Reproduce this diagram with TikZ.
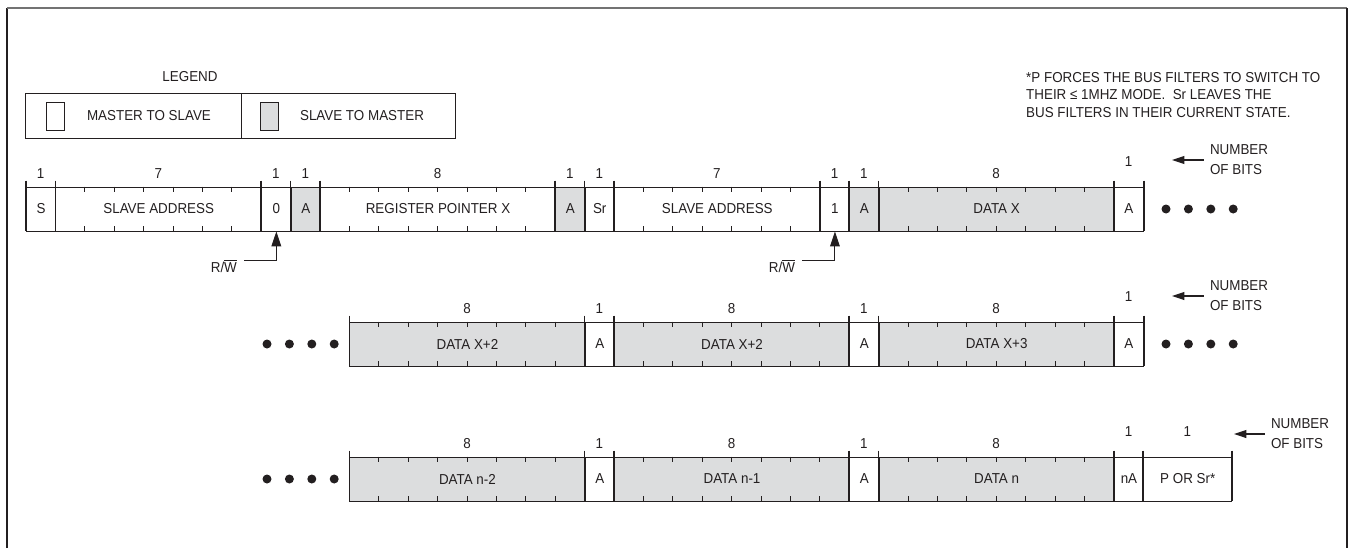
\documentclass[tikz,border=0pt]{standalone}
\usepackage{fontspec}
\setmainfont{Liberation Sans}[FakeStretch=0.93]
\usetikzlibrary{arrows.meta}

\definecolor{inkblack}{RGB}{35,31,32}
\definecolor{slavegray}{RGB}{220,221,222}

\tikzset{
  every node/.style={font=\fontsize{8.2}{10}\selectfont, text=inkblack},
  bitcell/.style={draw=inkblack, line width=0.5pt, minimum height=0.88cm, inner sep=0pt, anchor=west},
  fieldsep/.style={draw=inkblack, line width=0.9pt},
  bittick/.style={draw=inkblack, line width=0.5pt},
  bitnum/.style={inner sep=1pt},
  bitdot/.style={circle, fill=inkblack, inner sep=0pt, minimum size=0.18cm},
  swatch/.style={draw=inkblack, line width=0.5pt, inner sep=0pt, minimum width=0.36cm, minimum height=0.56cm},
  legendbox/.style={draw=inkblack, line width=0.5pt, inner sep=0pt, minimum height=0.9cm, anchor=north west},
  nbits/.style={anchor=west, align=left, inner sep=1.5pt, font=\fontsize{8.2}{11.5}\selectfont},
  rwarrow/.style={draw=inkblack, line width=0.6pt, -{Triangle[length=8.5pt,width=5.5pt]}},
  nbarrow/.style={draw=inkblack, line width=0.6pt, -{Triangle[length=7pt,width=4.5pt]}},
}

\begin{document}
\begin{tikzpicture}[x=0.02cm, y=-0.02cm]
  \useasboundingbox (0,0) rectangle (1351,548);

  % Frame
  \draw[line width=0.9pt, inkblack] (7,548) -- (7,8);
  \draw[line width=1.3pt, black!55] (7,8) -- (1347,8);
  \draw[line width=0.9pt, inkblack] (1347,8) -- (1347,548);

  % Legend
  \node (legend) at (190,77) {LEGEND};
  \node[legendbox, minimum width=4.32cm] (lgl) at (25,93) {};
  \node[legendbox, minimum width=4.28cm] (lgr) at (241,93) {};
  \node[swatch, fill=white] (swm) at (55,116) {};
  \node[swatch, fill=slavegray] (sws) at (269.5,116) {};
  \node (lgmtext) at (149,116) {MASTER TO SLAVE};
  \node (lgstext) at (362,116) {SLAVE TO MASTER};

  % Note
  \node[anchor=west, align=left, font=\fontsize{8.2}{10.2}\selectfont] (note) at (1020,95)
    {*P FORCES THE BUS FILTERS TO SWITCH TO\\THEIR ≤ 1MHZ MODE.~~Sr LEAVES THE\\BUS FILTERS IN THEIR CURRENT STATE.};

  % Row 1
  \foreach \st/\w/\nb/\lbl/\fc/\ny in {0/1/1/S/white/174, 1/7/7/SLAVE ADDRESS/white/174,
      8/1/1/0/white/174, 9/1/1/A/slavegray/174, 10/8/8/REGISTER POINTER X/white/174,
      18/1/1/A/slavegray/174, 19/1/1/Sr/white/174, 20/7/7/SLAVE ADDRESS/white/174,
      27/1/1/1/white/174, 28/1/1/A/slavegray/174, 29/8/8/DATA X/slavegray/174,
      37/1/1/A/white/162} {
    \pgfmathsetmacro\cx{26+\st*29.4}
    \pgfmathsetmacro\cw{\w*0.588}
    \node[bitcell, fill=\fc, minimum width=\cw cm] (r1-\st) at (\cx,209) {\lbl};
    \node[bitnum] (r1n-\st) at ({26+(\st+\w/2)*29.4},\ny) {\nb};
    \draw[fieldsep] (r1-\st.north west) ++(0,-6) -- (r1-\st.south west);
    \ifnum\nb>1
      \pgfmathtruncatemacro\nt{\nb-1}
      \foreach \k in {1,...,\nt} {
        \draw[bittick] ([xshift=\k*0.588cm]r1-\st.north west) -- ++(0,5);
        \draw[bittick] ([xshift=\k*0.588cm]r1-\st.south west) -- ++(0,-5);
      }
    \fi
  }
  \draw[fieldsep] (r1-37.north east) ++(0,-6) -- (r1-37.south east);

  % R/W bits
  \node[anchor=east, inner sep=1pt] (rw1) at (239,266) {R/$\overline{\hbox{W}}$};
  \draw[rwarrow] ([xshift=3pt,yshift=3.4pt]rw1.east) -| (r1-8.south);
  \node[anchor=east, inner sep=1pt] (rw2) at (797,266) {R/$\overline{\hbox{W}}$};
  \draw[rwarrow] ([xshift=3pt,yshift=3.4pt]rw2.east) -| (r1-27.south);

  % Row 2
  \foreach \st/\w/\nb/\lbl/\fc/\ny in {11/8/8/DATA X+2/slavegray/309, 19/1/1/A/white/309,
      20/8/8/DATA X+2/slavegray/309, 28/1/1/A/white/309,
      29/8/8/DATA X+3/slavegray/309, 37/1/1/A/white/297} {
    \pgfmathsetmacro\cx{26+\st*29.4}
    \pgfmathsetmacro\cw{\w*0.588}
    \node[bitcell, fill=\fc, minimum width=\cw cm] (r2-\st) at (\cx,344) {\lbl};
    \node[bitnum] (r2n-\st) at ({26+(\st+\w/2)*29.4},\ny) {\nb};
    \draw[fieldsep] (r2-\st.north west) ++(0,-6) -- (r2-\st.south west);
    \ifnum\nb>1
      \pgfmathtruncatemacro\nt{\nb-1}
      \foreach \k in {1,...,\nt} {
        \draw[bittick] ([xshift=\k*0.588cm]r2-\st.north west) -- ++(0,5);
        \draw[bittick] ([xshift=\k*0.588cm]r2-\st.south west) -- ++(0,-5);
      }
    \fi
  }
  \draw[fieldsep] (r2-37.north east) ++(0,-6) -- (r2-37.south east);

  % Row 3
  \foreach \st/\w/\nb/\lbl/\fc/\ny in {11/8/8/DATA n-2/slavegray/444, 19/1/1/A/white/444,
      20/8/8/DATA n-1/slavegray/444, 28/1/1/A/white/444,
      29/8/8/DATA n/slavegray/444, 37/1/1/nA/white/432, 38/3/1/P OR Sr*/white/432} {
    \pgfmathsetmacro\cx{26+\st*29.4}
    \pgfmathsetmacro\cw{\w*0.588}
    \node[bitcell, fill=\fc, minimum width=\cw cm] (r3-\st) at (\cx,479) {\lbl};
    \node[bitnum] (r3n-\st) at ({26+(\st+\w/2)*29.4},\ny) {\nb};
    \draw[fieldsep] (r3-\st.north west) ++(0,-6) -- (r3-\st.south west);
    \ifnum\nb>1
      \pgfmathtruncatemacro\nt{\nb-1}
      \foreach \k in {1,...,\nt} {
        \draw[bittick] ([xshift=\k*0.588cm]r3-\st.north west) -- ++(0,5);
        \draw[bittick] ([xshift=\k*0.588cm]r3-\st.south west) -- ++(0,-5);
      }
    \fi
  }
  \draw[fieldsep] (r3-38.north east) ++(0,-6) -- (r3-38.south east);

  % Continuation dots
  \foreach \k in {0,...,3} {
    \node[bitdot] (d1r-\k) at ({1166+\k*22.4},209) {};
    \node[bitdot] (d2l-\k) at ({267+\k*22.4},344) {};
    \node[bitdot] (d2r-\k) at ({1166+\k*22.4},344) {};
    \node[bitdot] (d3l-\k) at ({267+\k*22.4},479) {};
  }

  % Number of bits
  \node[nbits] (nb1) at (1207,160) {NUMBER\\OF BITS};
  \coordinate (nb1tip) at (1172,160);
  \draw[nbarrow] ([xshift=-2pt]nb1.west) -- (nb1tip);
  \node[nbits] (nb2) at (1207,296) {NUMBER\\OF BITS};
  \coordinate (nb2tip) at (1172,296);
  \draw[nbarrow] ([xshift=-2pt]nb2.west) -- (nb2tip);
  \node[nbits] (nb3) at (1268,434) {NUMBER\\OF BITS};
  \coordinate (nb3tip) at (1234,434);
  \draw[nbarrow] ([xshift=-2pt]nb3.west) -- (nb3tip);
\end{tikzpicture}
\end{document}
